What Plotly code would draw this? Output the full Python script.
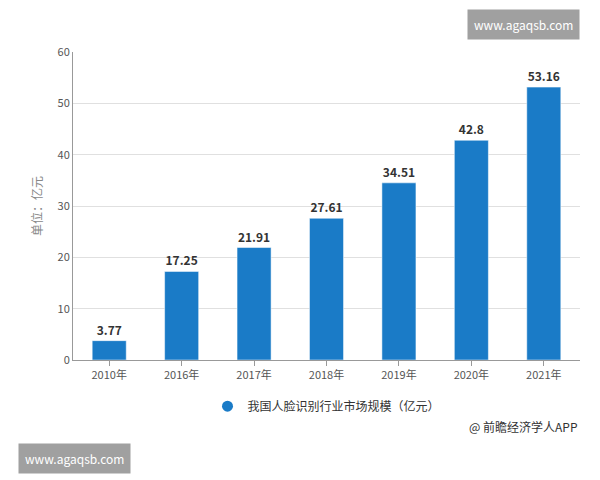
import plotly.graph_objects as go

years = ["2010年", "2016年", "2017年", "2018年", "2019年", "2020年", "2021年"]
values = [3.77, 17.25, 21.91, 27.61, 34.51, 42.8, 53.16]
labels = ["<b>3.77</b>", "<b>17.25</b>", "<b>21.91</b>", "<b>27.61</b>",
          "<b>34.51</b>", "<b>42.8</b>", "<b>53.16</b>"]
series_name = "我国人脸识别行业市场规模（亿元）"

font = "Noto Sans CJK SC"
blue = "#1a7bc7"

fig = go.Figure()
fig.add_trace(go.Bar(
    x=years, y=values, text=labels, textposition="outside",
    textfont=dict(size=12, color="#333333", family=font),
    marker_color=blue, width=0.47, showlegend=False, cliponaxis=False,
))
# circle marker for the legend entry
fig.add_trace(go.Scatter(
    x=[years[0]], y=[None], mode="markers", name=series_name,
    marker=dict(symbol="circle", size=11, color=blue),
))
fig.update_layout(
    width=600, height=480, template="plotly_white",
    font=dict(family=font, size=11, color="#555555"),
    margin=dict(l=65, r=28, t=44, b=128),
    showlegend=True,
    legend=dict(orientation="h", x=0.5, xanchor="center", y=-0.15, yanchor="middle",
                font=dict(size=12, color="#333333")),
    yaxis=dict(range=[0, 60], dtick=10, gridcolor="#e0e0e0", zeroline=False,
               showline=True, linecolor="#999999",
               title=dict(text="单位：亿元", font=dict(size=12, color="#888888"), standoff=12)),
    xaxis=dict(showline=True, linecolor="#999999", ticks="outside", tickcolor="#999999"),
    plot_bgcolor="white",
)
fig.add_annotation(text="@ 前瞻经济学人APP", xref="paper", yref="paper", x=1.0, y=-0.25,
                   showarrow=False, xanchor="right", font=dict(size=12, color="#333333"))
fig.add_annotation(text="www.agaqsb.com", xref="paper", yref="paper", x=1.0, y=1.14,
                   showarrow=False, xanchor="right", bgcolor="#a0a0a0",
                   font=dict(size=12, color="white"), borderpad=6)
fig.add_annotation(text="www.agaqsb.com", xref="paper", yref="paper", x=-0.108, y=-0.37,
                   showarrow=False, xanchor="left", bgcolor="#a0a0a0",
                   font=dict(size=12, color="white"), borderpad=6)
fig.write_html("out.html")
